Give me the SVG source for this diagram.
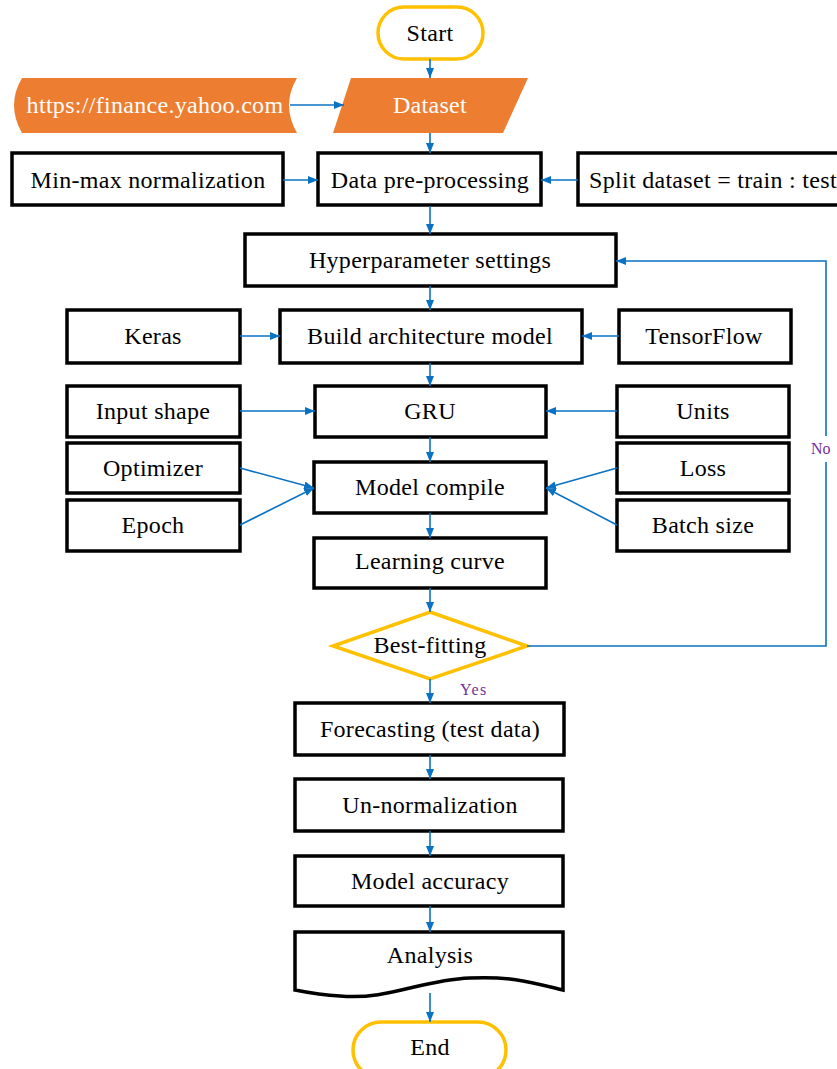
<svg xmlns="http://www.w3.org/2000/svg" width="837" height="1069" viewBox="0 0 837 1069">
<defs>
<marker id="ah" markerWidth="10" markerHeight="8" refX="10" refY="4" orient="auto" markerUnits="userSpaceOnUse">
<path d="M0,0 L10,4 L0,8 Z" fill="#0A72C2"/>
</marker>
<style>
.box{fill:#fff;stroke:#000;stroke-width:3.5}
.term{fill:#fff;stroke:#FFC000;stroke-width:3.5}
.io{fill:#ED7D31;stroke:none}
text{font-family:"Liberation Serif","Times New Roman","DejaVu Serif",serif}
.t{font-size:24px;fill:#000;text-anchor:middle;letter-spacing:0.3px}
.w{fill:#fff}
.lbl{font-size:16px;fill:#7030A0}
.c{fill:none;stroke:#0A72C2;stroke-width:1.6}
</style>
</defs>
<rect width="837" height="1069" fill="#fff"/>
<g id="start"><rect class="term" x="378" y="7" width="105" height="52" rx="26"/><text class="t" x="430" y="41">Start</text></g>
<g id="url"><path class="io" d="M22,78 L297,78 Q281,105 297,133 L22,133 Q6,105 22,78 Z"/><text class="t w" x="155" y="113">https://finance.yahoo.com</text></g>
<g id="dataset"><path class="io" d="M351,78 L528,78 L503,133 L333,133 Z"/><text class="t w" x="430" y="113">Dataset</text></g>
<g id="minmax"><rect class="box" x="12" y="153" width="271" height="52"/><text class="t" x="148" y="188">Min-max normalization</text></g>
<g id="preproc"><rect class="box" x="318" y="153" width="223" height="52"/><text class="t" x="430" y="188">Data pre-processing</text></g>
<g id="split"><rect class="box" x="578" y="153" width="270" height="52"/><text class="t" x="589" y="188" style="text-anchor:start">Split dataset = train : test</text></g>
<g id="hyper"><rect class="box" x="245" y="234" width="371" height="52"/><text class="t" x="430" y="268">Hyperparameter settings</text></g>
<g id="keras"><rect class="box" x="67" y="310" width="173" height="53"/><text class="t" x="153" y="344">Keras</text></g>
<g id="build"><rect class="box" x="280" y="310" width="302" height="53"/><text class="t" x="430" y="344">Build architecture model</text></g>
<g id="tensorflow"><rect class="box" x="619" y="310" width="172" height="53"/><text class="t" x="704" y="344">TensorFlow</text></g>
<g id="input"><rect class="box" x="67" y="386" width="173" height="51"/><text class="t" x="153" y="419">Input shape</text></g>
<g id="gru"><rect class="box" x="315" y="386" width="231" height="51"/><text class="t" x="430" y="419">GRU</text></g>
<g id="units"><rect class="box" x="617" y="386" width="172" height="51"/><text class="t" x="703" y="419">Units</text></g>
<g id="optimizer"><rect class="box" x="67" y="443" width="173" height="50"/><text class="t" x="153" y="476">Optimizer</text></g>
<g id="epoch"><rect class="box" x="67" y="500" width="173" height="51"/><text class="t" x="153" y="533">Epoch</text></g>
<g id="compile"><rect class="box" x="314" y="462" width="232" height="51"/><text class="t" x="430" y="495">Model compile</text></g>
<g id="loss"><rect class="box" x="617" y="443" width="172" height="50"/><text class="t" x="703" y="476">Loss</text></g>
<g id="batch"><rect class="box" x="617" y="500" width="172" height="51"/><text class="t" x="703" y="533">Batch size</text></g>
<g id="curve"><rect class="box" x="314" y="538" width="232" height="50"/><text class="t" x="430" y="569">Learning curve</text></g>
<g id="bestfit"><path class="term" d="M430,612 L527,646 L430,679 L333,646 Z"/><text class="t" x="430" y="653">Best-fitting</text></g>
<g id="forecast"><rect class="box" x="295" y="703" width="269" height="52"/><text class="t" x="430" y="737">Forecasting (test data)</text></g>
<g id="unnorm"><rect class="box" x="295" y="779" width="268" height="52"/><text class="t" x="430" y="813">Un-normalization</text></g>
<g id="accuracy"><rect class="box" x="295" y="856" width="268" height="50"/><text class="t" x="430" y="889">Model accuracy</text></g>
<g id="analysis"><path class="box" d="M295,932 L563,932 L563,990 C530,982 510,976 470,978 C420,980 390,1000 340,996 C320,995 305,992 295,990 Z"/><text class="t" x="430" y="963">Analysis</text></g>
<g id="end"><rect class="term" x="353" y="1022" width="153" height="56" rx="28"/><text class="t" x="430" y="1055">End</text></g>

<g id="connectors">
<line class="c" x1="430" y1="59" x2="430" y2="78" marker-end="url(#ah)"/>
<line class="c" x1="430" y1="133" x2="430" y2="153" marker-end="url(#ah)"/>
<line class="c" x1="430" y1="206" x2="430" y2="234" marker-end="url(#ah)"/>
<line class="c" x1="430" y1="286" x2="430" y2="310" marker-end="url(#ah)"/>
<line class="c" x1="430" y1="363" x2="430" y2="386" marker-end="url(#ah)"/>
<line class="c" x1="430" y1="437" x2="430" y2="462" marker-end="url(#ah)"/>
<line class="c" x1="430" y1="513" x2="430" y2="538" marker-end="url(#ah)"/>
<line class="c" x1="430" y1="588" x2="430" y2="612" marker-end="url(#ah)"/>
<line class="c" x1="430" y1="679" x2="430" y2="703" marker-end="url(#ah)"/>
<line class="c" x1="430" y1="755" x2="430" y2="779" marker-end="url(#ah)"/>
<line class="c" x1="430" y1="831" x2="430" y2="856" marker-end="url(#ah)"/>
<line class="c" x1="430" y1="906" x2="430" y2="932" marker-end="url(#ah)"/>
<line class="c" x1="430" y1="993" x2="430" y2="1022" marker-end="url(#ah)"/>
<line class="c" x1="290" y1="105" x2="344" y2="105" marker-end="url(#ah)"/>
<line class="c" x1="283" y1="180" x2="318" y2="180" marker-end="url(#ah)"/>
<line class="c" x1="578" y1="180" x2="541" y2="180" marker-end="url(#ah)"/>
<line class="c" x1="240" y1="336" x2="280" y2="336" marker-end="url(#ah)"/>
<line class="c" x1="619" y1="336" x2="582" y2="336" marker-end="url(#ah)"/>
<line class="c" x1="240" y1="411" x2="315" y2="411" marker-end="url(#ah)"/>
<line class="c" x1="617" y1="411" x2="546" y2="411" marker-end="url(#ah)"/>
<line class="c" x1="240" y1="468" x2="314" y2="488" marker-end="url(#ah)"/>
<line class="c" x1="240" y1="525" x2="314" y2="488" marker-end="url(#ah)"/>
<line class="c" x1="617" y1="468" x2="546" y2="488" marker-end="url(#ah)"/>
<line class="c" x1="617" y1="525" x2="546" y2="488" marker-end="url(#ah)"/>
<polyline class="c" points="527,646 826,646 826,462"/>
<polyline class="c" points="826,436 826,261 616,261" marker-end="url(#ah)"/>
<text class="lbl" x="811" y="454">No</text>
<text class="lbl" x="460" y="695" style="letter-spacing:1.5px">Yes</text>
</g>
</svg>
